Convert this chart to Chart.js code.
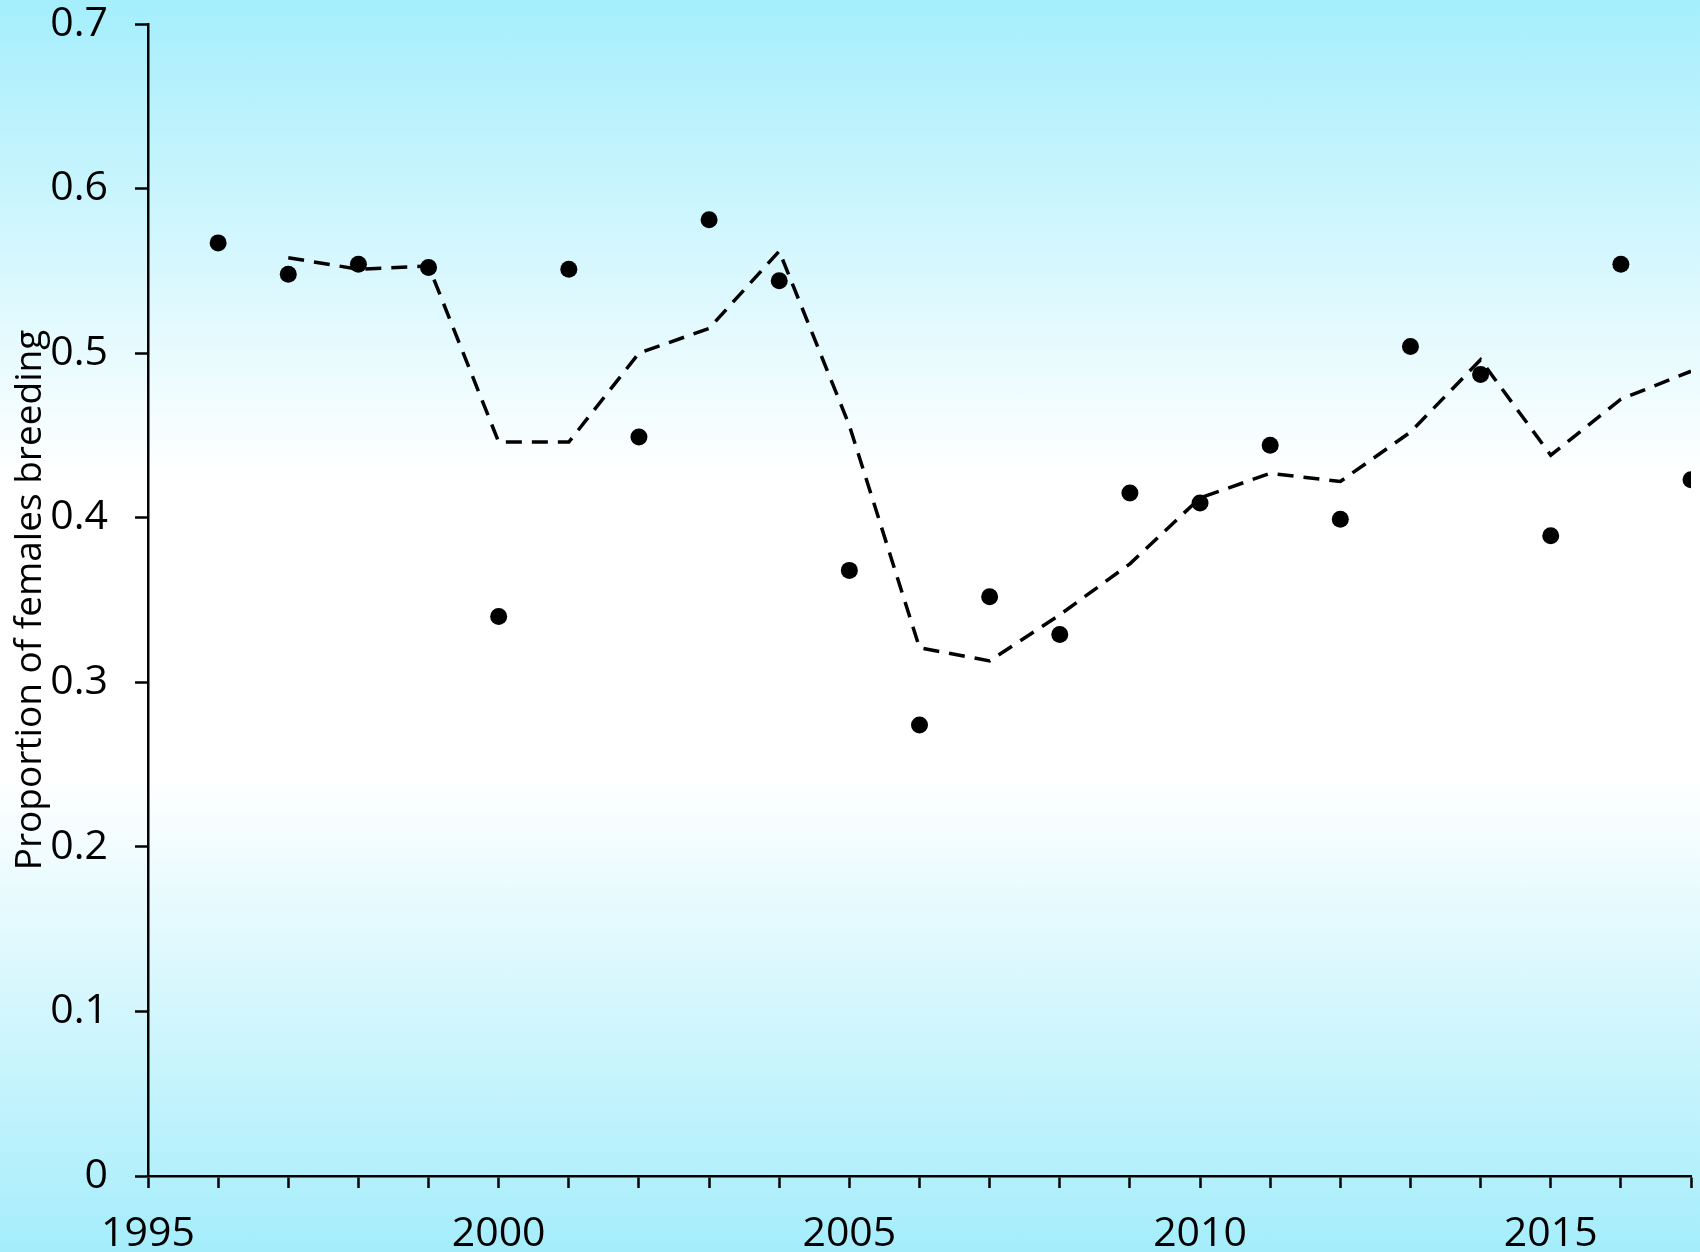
<!DOCTYPE html>
<html>
<head>
<meta charset="utf-8">
<title>Proportion of females breeding</title>
<script src="https://cdn.jsdelivr.net/npm/chart.js@4.4.1/dist/chart.umd.min.js"></script>
<style>
  html, body { margin: 0; padding: 0; }
  body {
    width: 1700px;
    height: 1252px;
    background: linear-gradient(to bottom, #a5eefc 0%, #ffffff 38%, #ffffff 62%, #a5edfb 100%);
  }
  #chart { display: block; }
</style>
</head>
<body>
<canvas id="chart" width="1700" height="1252"></canvas>
<script>
// data
const years = [1996, 1997, 1998, 1999, 2000, 2001, 2002, 2003, 2004, 2005, 2006,
  2007, 2008, 2009, 2010, 2011, 2012, 2013, 2014, 2015, 2016, 2017];
const proportion = [0.567, 0.548, 0.554, 0.552, 0.340, 0.551, 0.449, 0.581, 0.544, 0.368, 0.274,
  0.352, 0.329, 0.415, 0.409, 0.444, 0.399, 0.504, 0.487, 0.389, 0.554, 0.423];

// dashed moving-average line
const trendYears = [1997, 1998, 1999, 2000, 2001, 2002, 2003, 2004, 2005, 2006,
  2007, 2008, 2009, 2010, 2011, 2012, 2013, 2014, 2015, 2016, 2017];
const trend = [0.558, 0.551, 0.553, 0.446, 0.446, 0.500, 0.515, 0.562, 0.456, 0.321,
  0.313, 0.341, 0.372, 0.412, 0.427, 0.422, 0.452, 0.496, 0.438, 0.472, 0.489];

const xMin = 1995, xMax = 2017;
const yMin = 0, yMax = 0.7;
const yTitle = "Proportion of females breeding";

const tickFont = { family: "'Open Sans', sans-serif", size: 41 };

new Chart(document.getElementById("chart"), {
  type: "scatter",
  data: {
    datasets: [
      {
        label: "Moving average",
        data: trendYears.map((x, i) => ({ x, y: trend[i] })),
        showLine: true,
        borderColor: "#000",
        borderWidth: 3.5,
        borderDash: [16, 10],
        pointRadius: 0,
        fill: false,
      },
      {
        label: "Proportion",
        data: years.map((x, i) => ({ x, y: proportion[i] })),
        showLine: false,
        pointRadius: 8.5,
        pointBackgroundColor: "#000",
        pointBorderWidth: 0,
      },
    ],
  },
  options: {
    responsive: false,
    animation: false,
    layout: { padding: { top: 24, right: 9, left: 0, bottom: 0 } },
    plugins: {
      legend: { display: false },
      tooltip: { enabled: false },
    },
    scales: {
      x: {
        type: "linear",
        min: xMin,
        max: xMax,
        afterFit: (scale) => {
          scale.height = 76;
          scale.paddingLeft = 0;
          scale.paddingRight = 0;
        },
        ticks: {
          stepSize: 1,
          color: "#000",
          font: tickFont,
          padding: 22,
          maxRotation: 0,
          autoSkip: false,
          callback: (v) => (v % 5 === 0 ? String(v) : ""),
        },
        grid: {
          drawOnChartArea: false,
          drawTicks: true,
          tickLength: 12,
          tickColor: "#000",
          tickWidth: 2.5,
        },
        border: { display: true, color: "#000", width: 2.5 },
      },
      y: {
        min: yMin,
        max: yMax,
        afterFit: (scale) => {
          scale.width = 148;
          scale.paddingTop = 0;
          scale.paddingBottom = 0;
        },
        ticks: {
          stepSize: 0.1,
          color: "#000",
          font: tickFont,
          padding: 27,
          callback: (v) => (v === 0 ? "0" : v.toFixed(1)),
        },
        grid: {
          drawOnChartArea: false,
          drawTicks: true,
          tickLength: 13,
          tickColor: "#000",
          tickWidth: 2.5,
        },
        border: { display: true, color: "#000", width: 2.5 },
        title: {
          display: true,
          text: yTitle,
          color: "#000",
          font: { family: "'Open Sans', sans-serif", size: 37 },
          padding: { top: 8, bottom: 0 },
        },
      },
    },
  },
});
</script>
</body>
</html>
